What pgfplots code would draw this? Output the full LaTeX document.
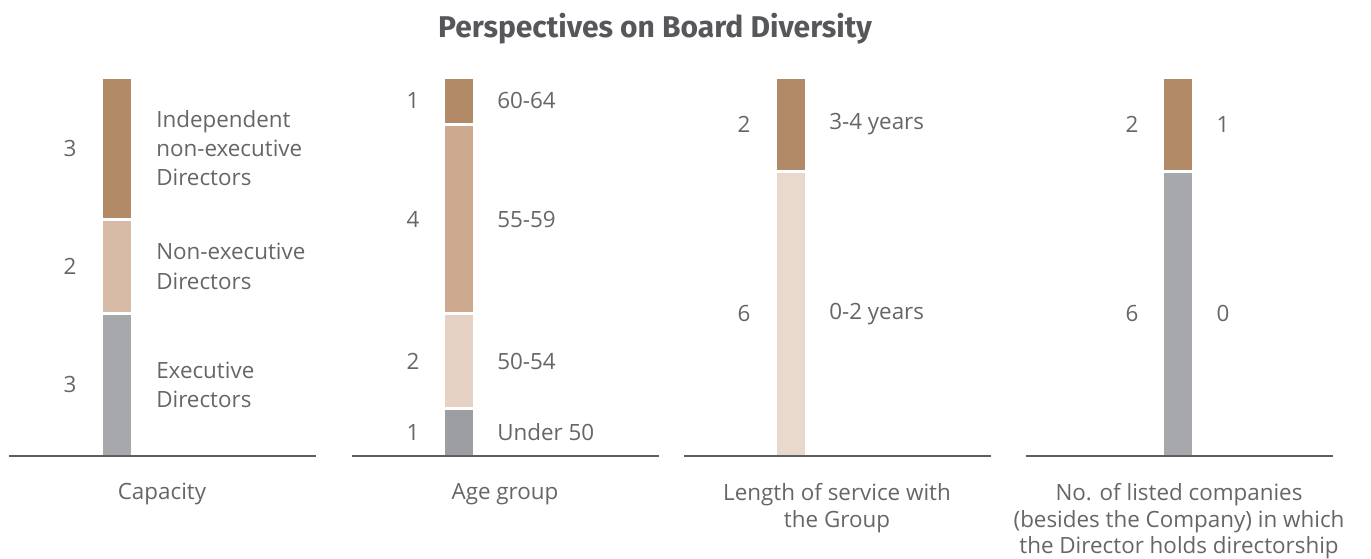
\documentclass[border=0pt]{standalone}
\usepackage{pgfplots}
\pgfplotsset{compat=1.18}
\usepackage{fontspec}
\setmainfont{Open Sans}
\newfontfamily\titlefont{Fira Sans}
\definecolor{txt}{HTML}{666666}
\definecolor{ttl}{HTML}{55575A}
\definecolor{axl}{HTML}{5E5F61}
\definecolor{tanD}{HTML}{B38A67}
\definecolor{tanM}{HTML}{D8BBA6}
\definecolor{tanA}{HTML}{CDAA8F}
\definecolor{tanL}{HTML}{E6D2C4}
\definecolor{tanXL}{HTML}{E9D9CD}
\definecolor{greyB}{HTML}{A6A8AB}
\definecolor{greyD}{HTML}{9C9EA1}
\pgfplotsset{panel/.style={
  scale only axis, width=230.25pt, height=284.25pt,
  xmin=0, xmax=307, ymin=0, ymax=8,
  axis x line*=bottom, hide y axis,
  axis line style={-, draw=axl, line width=1.6pt},
  xtick=\empty, ytick=\empty, clip=false, axis on top,
  ybar stacked, bar width=23.25pt,
  every axis plot/.append style={draw=white, line width=2.25pt},
  anchor=south west,
}}
\tikzset{lab/.style={text=txt, font=\fontsize{16.8}{22}\selectfont, inner sep=0pt},
         side/.style={lab, anchor=west, align=left},
         num/.style={lab, anchor=center},
         bot/.style={text=txt, font=\fontsize{16.8}{20}\selectfont, inner sep=0pt, anchor=north, align=center}}
\begin{document}
\begin{tikzpicture}[x=0.75pt,y=-0.75pt]
\path[use as bounding box] (0,0) rectangle (1371,558);
\node[anchor=base, text=ttl, inner sep=0pt] at (655,37) {\titlefont\fontsize{22.5}{26}\selectfont\bfseries Perspectives on Board Diversity};

% Panel 1: Capacity
\begin{axis}[panel, at={(6.75pt,-342pt)}]
\addplot[fill=greyB] coordinates {(108,3)};
\addplot[fill=tanM] coordinates {(108,2)};
\addplot[fill=tanD] coordinates {(108,3)};
\node[num] at (axis cs:61,1.5) {3};
\node[num] at (axis cs:61,4) {2};
\node[num] at (axis cs:61,6.5) {3};
\node[side] at (axis cs:147,1.5) {Executive\\Directors};
\node[side] at (axis cs:147,4) {Non-executive\\Directors};
\node[side] at (axis cs:147,6.5) {Independent\\non-executive\\Directors};
\end{axis}

% Panel 2: Age group
\begin{axis}[panel, at={(264pt,-342pt)}]
\addplot[fill=greyD] coordinates {(107,1)};
\addplot[fill=tanL] coordinates {(107,2)};
\addplot[fill=tanA] coordinates {(107,4)};
\addplot[fill=tanD] coordinates {(107,1)};
\node[num] at (axis cs:61,0.5) {1};
\node[num] at (axis cs:61,2) {2};
\node[num] at (axis cs:61,5) {4};
\node[num] at (axis cs:61,7.5) {1};
\node[side] at (axis cs:145,0.5) {Under 50};
\node[side] at (axis cs:145,2) {50-54};
\node[side] at (axis cs:145,5) {55-59};
\node[side] at (axis cs:145,7.5) {60-64};
\end{axis}

% Panel 3: Length of service
\begin{axis}[panel, at={(513pt,-342pt)}]
\addplot[fill=tanXL] coordinates {(107,6)};
\addplot[fill=tanD] coordinates {(107,2)};
\node[num] at (axis cs:60,3) {6};
\node[num] at (axis cs:60,7) {2};
\node[side] at (axis cs:145,3) {0-2 years};
\node[side] at (axis cs:145,7) {3-4 years};
\end{axis}

% Panel 4: Listed companies
\begin{axis}[panel, at={(769.5pt,-342pt)}]
\addplot[fill=greyB] coordinates {(152,6)};
\addplot[fill=tanD] coordinates {(152,2)};
\node[num] at (axis cs:106,3) {6};
\node[num] at (axis cs:106,7) {2};
\node[num] at (axis cs:197,3) {0};
\node[num] at (axis cs:197,7) {1};
\end{axis}

\node[bot] at (162,483) {Capacity};
\node[bot] at (505,483) {Age group};
\node[bot] at (837,483) {Length of service with\\the Group};
\node[bot] at (1179,483) {No. of listed companies\\(besides the Company) in which\\the Director holds directorship};
\end{tikzpicture}
\end{document}
